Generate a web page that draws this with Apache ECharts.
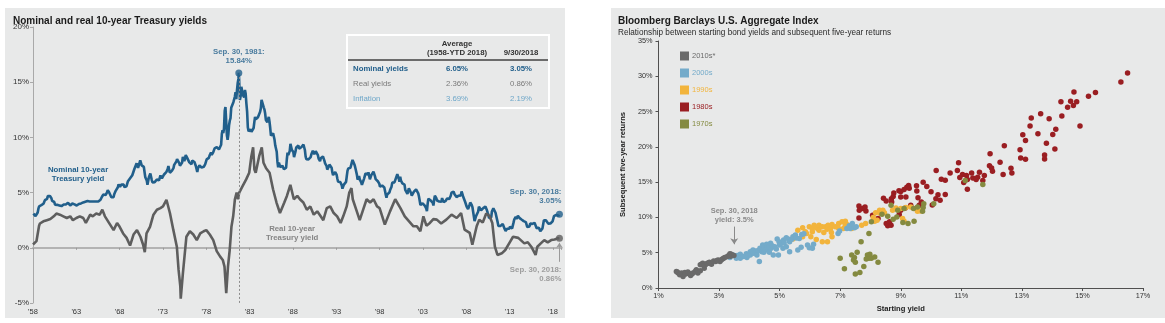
<!DOCTYPE html>
<html>
<head>
<meta charset="utf-8">
<script src="https://cdn.jsdelivr.net/npm/echarts@6.0.0/dist/echarts.min.js"></script>
<style>
  html, body { margin: 0; padding: 0; background: #ffffff; width: 1165px; height: 323px; overflow: hidden; }
  #yields  { position: absolute; left: 5px;   top: 8px; width: 560px; height: 310px; }
  #returns { position: absolute; left: 611px; top: 8px; width: 554px; height: 310px; }
</style>
</head>
<body>
<div id="yields"></div>
<div id="returns"></div>
<script>
// ---------- Nominal 10-year Treasury yield, monthly, Jan 1958 - Sep 2018 (%) ----------
const nominalStartYear = 1958;
const nominalYield = [
  3.09,3.05,2.98,2.88,2.92,2.97,3.20,3.54,3.76,3.80,3.74,3.86, // 1958
  4.02,3.96,3.99,4.12,4.31,4.34,4.40,4.43,4.68,4.53,4.53,4.69, // 1959
  4.72,4.49,4.25,4.28,4.35,4.15,3.90,3.80,3.80,3.89,3.93,3.84, // 1960
  3.84,3.78,3.74,3.78,3.71,3.88,3.92,4.04,3.98,3.92,3.94,4.06, // 1961
  4.08,4.04,3.93,3.84,3.87,3.91,4.01,3.98,3.98,3.93,3.92,3.86, // 1962
  3.83,3.92,3.93,3.97,3.93,3.99,4.02,4.00,4.08,4.11,4.12,4.13, // 1963
  4.17,4.15,4.22,4.23,4.20,4.17,4.19,4.19,4.20,4.19,4.15,4.18, // 1964
  4.19,4.21,4.21,4.20,4.21,4.21,4.20,4.25,4.29,4.35,4.45,4.62, // 1965
  4.61,4.83,4.87,4.75,4.78,4.81,5.02,5.22,5.18,5.01,5.16,4.84, // 1966
  4.58,4.63,4.54,4.59,4.85,5.02,5.16,5.28,5.30,5.48,5.75,5.70, // 1967
  5.53,5.56,5.74,5.64,5.87,5.72,5.50,5.42,5.46,5.58,5.70,6.03, // 1968
  6.04,6.19,6.30,6.17,6.32,6.57,6.72,6.69,7.16,7.10,7.14,7.65, // 1969
  7.79,7.24,7.07,7.39,7.91,7.84,7.46,7.53,7.39,7.33,6.84,6.39, // 1970
  6.24,6.11,5.70,5.83,6.39,6.52,6.73,6.58,6.14,5.93,5.81,5.93, // 1971
  5.95,6.08,6.07,6.19,6.13,6.11,6.11,6.21,6.55,6.48,6.28,6.36, // 1972
  6.46,6.64,6.71,6.67,6.85,6.90,7.13,7.40,7.09,6.79,6.73,6.74, // 1973
  6.99,6.96,7.21,7.51,7.58,7.54,7.81,8.04,8.04,7.90,7.68,7.43, // 1974
  7.50,7.39,7.73,8.23,8.06,7.86,8.06,8.40,8.43,8.14,8.05,8.00, // 1975
  7.74,7.79,7.73,7.56,7.90,7.86,7.83,7.77,7.59,7.41,7.29,6.87, // 1976
  7.21,7.39,7.46,7.37,7.46,7.28,7.33,7.40,7.34,7.52,7.58,7.69, // 1977
  8.01,8.03,8.04,8.15,8.35,8.46,8.64,8.41,8.42,8.64,8.81,9.01, // 1978
  9.10,9.10,9.12,9.18,9.25,8.91,8.95,9.03,9.33,10.30,10.65,10.39, // 1979
  10.80,12.41,12.75,11.47,10.18,9.78,10.25,11.10,11.51,11.75,12.68,12.84, // 1980
  12.57,13.19,13.12,13.68,14.10,13.47,14.28,14.94,15.32,15.15,13.39,13.72, // 1981
  14.59,14.43,13.86,13.87,13.62,14.30,13.95,13.06,12.34,10.91,10.55,10.54, // 1982
  10.46,10.72,10.51,10.40,10.38,10.85,11.38,11.85,11.65,11.54,11.69,11.83, // 1983
  11.67,11.84,12.32,12.63,13.41,13.56,13.36,12.72,12.52,12.16,11.57,11.50, // 1984
  11.38,11.51,11.86,11.43,10.85,10.16,10.31,10.33,10.37,10.24,9.78,9.26, // 1985
  9.19,8.70,7.78,7.30,7.71,7.80,7.30,7.17,7.45,7.43,7.25,7.11, // 1986
  7.08,7.25,7.25,8.02,8.61,8.40,8.45,8.76,9.42,9.52,8.86,8.99, // 1987
  8.67,8.21,8.37,8.72,9.09,8.92,9.06,9.26,8.98,8.80,8.96,9.11, // 1988
  9.09,9.17,9.36,9.18,8.86,8.28,8.02,8.11,8.19,8.01,7.87,7.84, // 1989
  8.21,8.47,8.59,8.79,8.76,8.48,8.47,8.75,8.89,8.72,8.39,8.08, // 1990
  8.09,7.85,8.11,8.04,8.07,8.28,8.27,7.90,7.65,7.53,7.42,7.09, // 1991
  7.03,7.34,7.54,7.48,7.39,7.26,6.84,6.59,6.42,6.59,6.87,6.77, // 1992
  6.60,6.26,5.98,5.97,6.04,5.96,5.81,5.68,5.36,5.33,5.72,5.77, // 1993
  5.75,5.97,6.48,6.97,7.18,7.10,7.30,7.24,7.46,7.74,7.96,7.81, // 1994
  7.78,7.47,7.20,7.06,6.63,6.17,6.28,6.49,6.20,6.04,5.93,5.71, // 1995
  5.65,5.81,6.27,6.51,6.74,6.91,6.87,6.64,6.83,6.53,6.20,6.30, // 1996
  6.58,6.42,6.69,6.89,6.71,6.49,6.22,6.30,6.21,6.03,5.88,5.81, // 1997
  5.54,5.57,5.65,5.64,5.65,5.50,5.46,5.34,4.81,4.53,4.83,4.65, // 1998
  4.72,5.00,5.23,5.18,5.54,5.90,5.79,5.94,5.92,6.11,6.03,6.28, // 1999
  6.66,6.52,6.26,5.99,6.44,6.10,6.05,5.83,5.80,5.74,5.72,5.24, // 2000
  5.16,5.10,4.89,5.14,5.39,5.28,5.24,4.97,4.73,4.57,4.65,5.09, // 2001
  5.04,4.91,5.28,5.21,5.16,4.93,4.65,4.26,3.87,3.94,4.05,4.03, // 2002
  4.05,3.90,3.81,3.96,3.57,3.33,3.98,4.45,4.27,4.29,4.30,4.27, // 2003
  4.15,4.08,3.83,4.35,4.72,4.73,4.50,4.28,4.13,4.10,4.19,4.23, // 2004
  4.22,4.17,4.50,4.34,4.14,4.00,4.18,4.26,4.20,4.46,4.54,4.47, // 2005
  4.42,4.57,4.72,4.99,5.11,5.11,5.09,4.88,4.72,4.73,4.60,4.56, // 2006
  4.76,4.72,4.56,4.69,4.75,5.10,5.00,4.67,4.52,4.53,4.15,4.10, // 2007
  3.74,3.74,3.51,3.68,3.88,4.10,4.01,3.89,3.69,3.81,3.53,2.42, // 2008
  2.52,2.87,2.82,2.93,3.29,3.72,3.56,3.59,3.40,3.39,3.40,3.59, // 2009
  3.73,3.69,3.73,3.85,3.42,3.20,3.01,2.70,2.65,2.54,2.76,3.29, // 2010
  3.39,3.58,3.41,3.46,3.17,3.00,3.00,2.30,1.98,2.15,2.01,1.98, // 2011
  1.97,1.97,2.17,2.05,1.80,1.62,1.53,1.68,1.72,1.75,1.65,1.72, // 2012
  1.91,1.98,1.96,1.76,1.93,2.30,2.58,2.74,2.81,2.62,2.72,2.90, // 2013
  2.86,2.71,2.72,2.71,2.56,2.60,2.54,2.42,2.53,2.30,2.33,2.21, // 2014
  1.88,1.98,2.04,1.94,2.20,2.36,2.32,2.17,2.17,2.07,2.26,2.24, // 2015
  2.09,1.78,1.89,1.81,1.81,1.64,1.50,1.56,1.63,1.76,2.14,2.49, // 2016
  2.43,2.42,2.48,2.30,2.30,2.19,2.32,2.21,2.20,2.36,2.35,2.40, // 2017
  2.58,2.86,2.84,2.87,2.98,2.91,2.89,2.89,3.00                 // 2018
];

// ---------- Real 10-year Treasury yield: [year, %] ----------
const realYield = [
  [1958.0,0.3],[1958.2,0.3],[1958.4,0.6],[1958.7,2.0],[1958.8,2.2],[1959.2,2.4],[1959.6,2.5],[1960.0,2.6],
  [1960.4,2.85],[1960.7,3.1],[1961.1,3.0],[1961.5,2.85],[1961.9,2.7],[1962.3,2.85],[1962.6,2.5],[1963.0,2.7],
  [1963.4,2.85],[1963.8,2.7],[1964.1,2.25],[1964.6,3.0],[1964.9,2.85],[1965.3,3.1],[1965.7,3.0],[1966.0,3.45],
  [1966.3,2.85],[1966.9,2.1],[1967.3,1.6],[1967.7,2.25],[1968.0,1.9],[1968.4,1.3],[1968.8,0.9],[1969.2,0.2],
  [1969.6,1.2],[1970.0,1.6],[1970.4,1.0],[1970.7,0.3],[1970.9,-0.4],[1971.1,1.3],[1971.5,1.9],[1971.9,3.0],
  [1972.3,3.45],[1972.7,3.6],[1973.0,3.75],[1973.4,4.35],[1973.8,3.15],[1974.2,1.6],[1974.6,0.1],[1974.8,-2.0],
  [1975.0,-3.5],[1975.05,-4.6],[1975.3,-2.3],[1975.7,1.0],[1976.1,1.5],[1976.5,1.2],[1976.9,0.7],[1977.3,1.3],
  [1977.7,1.5],[1978.0,1.6],[1978.4,1.2],[1978.8,0.7],[1979.2,-0.3],[1979.6,-0.8],[1979.9,-1.1],[1980.1,-1.7],
  [1980.3,-4.1],[1980.5,-1.7],[1980.7,-0.2],[1980.9,1.9],[1981.1,2.85],[1981.3,4.4],[1981.5,5.0],[1981.65,4.4],
  [1981.8,5.0],[1982.2,5.6],[1982.6,6.2],[1982.95,6.8],[1983.2,8.3],[1983.4,9.1],[1983.55,7.1],[1983.7,6.8],
  [1984.1,8.3],[1984.4,9.1],[1984.6,7.7],[1984.9,7.2],[1985.3,6.8],[1985.7,5.3],[1986.1,4.1],[1986.5,3.15],
  [1986.7,3.3],[1987.0,4.1],[1987.3,4.7],[1987.7,5.7],[1988.1,4.4],[1988.5,4.7],[1988.8,4.4],[1989.2,4.1],
  [1989.6,3.45],[1990.0,3.75],[1990.4,3.0],[1990.8,3.3],[1991.2,2.85],[1991.5,2.5],[1991.9,3.6],[1992.3,3.75],
  [1992.7,3.15],[1993.1,2.85],[1993.5,2.25],[1993.8,2.85],[1994.2,3.75],[1994.5,5.0],[1994.75,5.4],[1994.9,4.4],
  [1995.3,3.45],[1995.7,2.5],[1996.1,3.45],[1996.5,4.4],[1996.9,4.1],[1997.3,4.4],[1997.7,3.75],[1998.0,3.6],
  [1998.3,2.85],[1998.6,2.1],[1999.2,3.3],[1999.8,4.4],[2000.4,3.6],[2000.9,2.85],[2001.4,2.4],[2001.9,1.95],
  [2002.3,1.95],[2002.7,1.5],[2003.05,2.85],[2003.4,2.0],[2003.8,2.25],[2004.2,2.6],[2004.6,2.55],[2005.1,2.2],
  [2005.7,2.55],[2006.3,3.0],[2006.9,2.7],[2007.4,3.15],[2007.8,1.65],[2008.4,1.35],[2008.7,0.27],[2009.2,1.95],
  [2009.5,2.55],[2009.9,2.3],[2010.3,3.1],[2010.7,2.85],[2011.0,2.25],[2011.3,0.1],[2011.6,-0.65],[2012.1,-0.5],
  [2012.5,-0.2],[2013.1,0.6],[2013.4,1.0],[2014.0,0.9],[2014.7,0.4],[2015.1,0.5],[2015.5,0.1],[2016.0,-0.65],
  [2016.2,0.1],[2016.6,0.4],[2017.0,0.7],[2017.4,0.5],[2017.8,0.7],[2018.2,0.75],[2018.5,0.85]
];

// Called-out points
const peakPoint   = { date: 1981.75, value: 15.84, text: 'Sep. 30, 1981:\n15.84%' };
const latestPoint = { date: 2018.75, nominal: 3.05, real: 0.86,
                      nominalText: 'Sep. 30, 2018:\n3.05%', realText: 'Sep. 30, 2018:\n0.86%' };

const yearTickLabels = ["'58","'63","'68","'73","'78","'83","'88","'93","'98","'03","'08","'13","'18"];

// Summary table
const tableHeader = ['', 'Average\n(1958-YTD 2018)', '9/30/2018'];
const tableRows = [
  ['Nominal yields', '6.05%', '3.05%'],
  ['Real yields',    '2.36%', '0.86%'],
  ['Inflation',      '3.69%', '2.19%']
];

// ---------- Starting yield vs. subsequent five-year return: [yield %, return %] ----------
const decade2010s = [
  [1.59,2.34],[1.62,2.25],[1.65,2.11],[1.7,1.87],[1.76,2.11],[1.81,1.64],[1.87,2.2],[1.89,1.97],[1.93,2.05],
  [1.97,2.25],[2.03,2.01],[2.06,1.78],[2.1,2.0],[2.14,2.11],[2.21,2.34],[2.25,2.58],[2.3,2.11],[2.38,2.44],
  [2.38,3.28],[2.42,3.35],[2.46,3.51],[2.51,3.19],[2.51,2.81],[2.55,3.3],[2.6,3.47],[2.64,3.55],[2.68,3.66],
  [2.72,3.5],[2.75,3.37],[2.82,3.84],[2.89,3.75],[2.93,3.9],[2.97,3.98],[3.03,3.75],[3.07,3.95],[3.11,4.12],
  [3.15,4.2],[3.19,4.31],[3.27,4.45],[3.32,4.6],[3.36,4.87],[3.38,4.5],[3.4,4.8],[3.43,4.69],[3.49,4.59]
];
const decade2000s = [
  [3.36,4.31],[3.46,4.69],[3.57,4.22],[3.6,4.59],[3.7,4.78],[3.7,4.22],[3.81,4.45],[3.9,4.87],[3.92,4.31],
  [3.95,4.6],[4.03,5.15],[4.03,4.69],[4.1,5.1],[4.12,5.39],[4.14,4.92],[4.2,5.0],[4.22,5.25],[4.25,4.69],
  [4.3,5.3],[4.33,3.75],[4.35,5.62],[4.41,5.15],[4.44,6.09],[4.45,5.3],[4.48,5.06],[4.5,5.8],[4.52,5.39],
  [4.55,5.5],[4.57,6.19],[4.6,5.9],[4.62,5.62],[4.65,5.8],[4.66,5.06],[4.7,6.33],[4.72,5.62],[4.75,6.0],
  [4.79,4.69],[4.84,5.86],[4.89,5.53],[4.92,6.94],[4.96,4.69],[4.98,6.56],[5.0,6.1],[5.06,6.33],[5.11,5.62],
  [5.13,6.79],[5.15,6.4],[5.22,7.12],[5.22,5.86],[5.3,6.9],[5.33,6.56],[5.33,5.15],[5.4,6.9],[5.44,7.26],
  [5.52,7.5],[5.55,7.1],[5.6,5.39],[5.65,7.03],[5.71,5.76],[5.73,7.59],[5.8,7.7],[5.92,6.09],[5.98,5.72],
  [6.08,5.62],[6.12,6.19],[6.93,7.73],[6.98,8.06],[7.22,8.43],[7.3,8.81],[7.33,8.43],[7.4,9.14],[7.47,8.53],
  [7.53,8.67]
];
const decade1990s = [
  [5.44,6.94],[5.6,8.2],[5.76,8.53],[5.76,7.26],[5.85,7.97],[5.89,7.73],[5.98,8.67],[6.03,7.26],[6.08,8.43],
  [6.08,7.97],[6.14,8.9],[6.21,6.89],[6.25,8.43],[6.3,8.9],[6.3,8.2],[6.41,8.67],[6.41,6.56],[6.46,7.87],
  [6.52,8.67],[6.57,8.34],[6.58,6.56],[6.6,8.9],[6.68,8.43],[6.71,7.87],[6.73,9.0],[6.73,7.26],[6.84,8.67],
  [6.95,9.14],[6.95,8.43],[7.06,9.37],[7.11,8.43],[7.17,9.47],[7.17,8.9],[7.22,9.0],[7.38,8.43],[7.71,8.9],
  [7.84,9.14],[8.09,9.98],[8.14,9.47],[8.17,10.68],[8.22,9.6],[8.3,11.0],[8.33,10.54],[8.41,11.0],[8.46,10.68],
  [8.73,11.0],[8.84,11.34],[9.0,11.25],[9.06,9.84],[9.11,9.47],[9.17,11.39],[9.33,11.48],[9.55,10.87],[9.65,10.92]
];
const decade1980s = [
  [16.49,30.46],[16.27,29.19],[14.72,27.79],[15.43,27.69],[15.2,27.18],[14.29,26.38],[14.61,26.48],[14.81,26.38],
  [14.51,25.63],[14.7,25.87],[13.62,24.7],[13.31,24.09],[13.9,23.99],[14.32,24.37],[13.27,22.96],[14.12,22.49],
  [14.92,22.96],[13.03,21.7],[13.53,21.84],[14.02,21.74],[13.12,20.9],[13.81,20.52],[12.42,20.15],[12.94,19.59],
  [14.09,19.68],[11.95,19.03],[12.96,18.42],[13.12,18.23],[13.75,18.84],[13.75,18.28],[10.91,17.76],[12.28,17.81],
  [11.93,17.34],[12.0,17.01],[12.64,16.96],[12.03,16.54],[12.38,16.07],[12.67,16.31],[10.17,16.64],[10.63,16.31],
  [10.87,16.64],[11.04,16.07],[10.34,15.42],[10.47,15.28],[10.95,15.65],[11.17,15.93],[11.34,16.31],[11.2,15.37],
  [11.08,14.95],[11.38,15.6],[11.6,16.4],[11.54,15.7],[11.49,15.37],[11.71,15.23],[11.2,14.01],[11.76,15.93],
  [9.74,15.0],[9.86,14.39],[9.52,14.48],[10.0,13.64],[9.26,14.53],[9.2,14.29],[9.11,13.96],[9.0,13.68],
  [9.28,14.15],[9.53,13.73],[10.23,13.21],[10.47,13.26],[10.16,12.65],[10.3,12.42],[10.04,11.76],[8.77,13.45],
  [8.94,13.78],[8.75,12.98],[8.69,12.65],[8.43,12.7],[8.52,12.32],[8.7,12.18],[9.0,12.89],[9.17,12.89],
  [9.57,12.79],[9.33,11.72],[9.15,11.34],[9.0,11.01],[8.95,10.4],[9.68,12.18],[9.61,11.72],[7.62,11.62],
  [7.63,11.01],[7.74,11.25],[7.85,10.92],[7.82,11.48],[7.62,9.93],[8.07,10.31],[8.52,9.14],[8.57,8.81],
  [8.68,8.9],[8.63,9.37],[8.25,9.84]
];
const decade1970s = [
  [7.0,4.22],[7.14,2.72],[7.38,4.69],[7.47,4.31],[7.44,3.98],[7.56,5.06],[7.69,6.56],[7.5,3.65],[7.5,1.97],
  [7.65,2.2],[7.78,3.05],[7.9,4.69],[7.95,4.22],[7.86,4.12],[8.03,4.22],[8.14,4.4],[8.25,3.65],[7.95,7.73],
  [7.98,4.78],[8.03,9.37],[8.38,10.45],[8.68,11.72],[8.75,9.75],[8.87,10.07],[9.07,9.28],[9.24,9.14],
  [9.44,9.47],[9.42,11.25],[9.55,11.48],[9.74,11.39],[9.76,11.95],[9.72,10.87],[10.09,11.95],[9.11,11.25],
  [11.13,15.23],[11.71,14.67],[8.9,11.0],[8.57,10.17]
];
const latestStartingYield = { yield: 3.5, text: 'Sep. 30, 2018\nyield: 3.5%' };

// ---------- Shared styling ----------
const FONT = '"Liberation Sans", Arial, Helvetica, sans-serif';
const PANEL_BG = '#e8e9e9';
const BLUE = '#215f8b';
const GRAY = '#5e5e5e';
const LIGHT_BLUE = '#6ea7c9';
const decadeColors = {
  '2010s*': '#6a6a6a',
  '2000s':  '#74abca',
  '1990s':  '#f2b43c',
  '1980s':  '#9a1e22',
  '1970s':  '#848a40'
};

// ---------- Left panel: nominal and real yields ----------
const nominalSeries = [];
nominalYield.forEach((v, i) => {
  const t = nominalStartYear + (i + 0.5) / 12;
  if (nominalSeries.length && nominalSeries[nominalSeries.length - 1][0] < peakPoint.date && t > peakPoint.date) {
    nominalSeries.push([peakPoint.date, peakPoint.value]);
  }
  nominalSeries.push([t, v]);
});
nominalSeries.push([latestPoint.date, latestPoint.nominal]);
const realSeries = realYield.concat([[latestPoint.date, latestPoint.real]]);

const tableLeft = 342, tableTop = 27, tableW = 202, tableH = 73;
const colX = [tableLeft + 6, tableLeft + 110, tableLeft + 174];
const rowY = [tableTop + 34, tableTop + 49, tableTop + 64];
const rowStyles = [
  { fill: BLUE, fontWeight: 'bold' },
  { fill: '#7a7a7a', fontWeight: 'normal' },
  { fill: LIGHT_BLUE, fontWeight: 'normal' }
];
const tableGraphic = [
  { type: 'rect', shape: { x: tableLeft, y: tableTop, width: tableW, height: tableH },
    style: { fill: 'rgba(0,0,0,0)', stroke: '#ffffff', lineWidth: 2 } },
  { type: 'line', shape: { x1: tableLeft + 1, y1: tableTop + 25, x2: tableLeft + tableW - 1, y2: tableTop + 25 },
    style: { stroke: '#6b6b6b', lineWidth: 2 } },
  { type: 'text', x: colX[1], y: tableTop + 13,
    style: { text: tableHeader[1], fill: '#333333', fontSize: 7.8, fontWeight: 'bold', fontFamily: FONT,
             align: 'center', verticalAlign: 'middle', lineHeight: 9 } },
  { type: 'text', x: colX[2], y: tableTop + 18,
    style: { text: tableHeader[2], fill: '#333333', fontSize: 7.8, fontWeight: 'bold', fontFamily: FONT,
             align: 'center', verticalAlign: 'middle' } }
];
tableRows.forEach((row, r) => {
  row.forEach((cell, c) => {
    tableGraphic.push({
      type: 'text', x: colX[c], y: rowY[r],
      style: { text: cell, fill: rowStyles[r].fill, fontSize: 7.8, fontWeight: rowStyles[r].fontWeight,
               fontFamily: FONT, align: c === 0 ? 'left' : 'center', verticalAlign: 'middle' }
    });
  });
});

const yieldsChart = echarts.init(document.getElementById('yields'));
yieldsChart.setOption({
  backgroundColor: PANEL_BG,
  animation: false,
  textStyle: { fontFamily: FONT },
  title: {
    text: 'Nominal and real 10-year Treasury yields', left: 3, top: 3,
    textStyle: { fontSize: 10, fontWeight: 'bold', color: '#1a1a1a', fontFamily: FONT }
  },
  grid: { left: 28, top: 19, width: 528.6, height: 276 },
  xAxis: [
    {
      type: 'value', min: 1958, max: 2019, interval: 5,
      axisLine: { show: false, onZero: false }, axisTick: { show: false }, splitLine: { show: false },
      axisLabel: {
        fontSize: 7.5, color: '#333333', margin: 5,
        formatter: v => ((v - 1958) % 5 === 0 ? (yearTickLabels[(v - 1958) / 5] || '') : '')
      }
    },
    {
      type: 'value', min: 1958, max: 2019, interval: 5, position: 'bottom',
      axisLine: { show: true, onZero: true, lineStyle: { color: '#b3b3b3', width: 2 } },
      axisTick: { show: true, length: 2, lineStyle: { color: '#9a9a9a' } },
      axisLabel: { show: false }, splitLine: { show: false }
    }
  ],
  yAxis: {
    type: 'value', min: -5, max: 20, interval: 5,
    axisLine: { show: true, lineStyle: { color: '#a9a9a9' } },
    axisTick: { show: true, length: 3, lineStyle: { color: '#a9a9a9' } },
    splitLine: { show: false },
    axisLabel: { fontSize: 8, color: '#333333', margin: 4, formatter: '{value}%' }
  },
  graphic: tableGraphic,
  series: [
    {
      name: 'Nominal 10-year Treasury yield', type: 'line', data: nominalSeries,
      symbol: 'none', lineStyle: { color: BLUE, width: 2.6 }, z: 3,
      markLine: {
        silent: true, symbol: 'none', animation: false,
        lineStyle: { color: '#8c8c8c', type: [2, 2], width: 1 }, label: { show: false },
        data: [[{ coord: [peakPoint.date, peakPoint.value] }, { coord: [peakPoint.date, -5] }]]
      },
      markPoint: {
        silent: true, symbol: 'circle', symbolSize: 0,
        data: [{ coord: [1963.2, 6.68], value: 0 }],
        label: {
          show: true, position: 'inside', formatter: 'Nominal 10-year\nTreasury yield',
          color: BLUE, fontSize: 7.8, fontWeight: 'bold', lineHeight: 9, fontFamily: FONT
        }
      }
    },
    {
      name: 'Real 10-year Treasury yield', type: 'line', data: realSeries,
      symbol: 'none', lineStyle: { color: GRAY, width: 2.6 }, z: 4,
      markLine: {
        silent: true, symbol: ['none', 'arrow'], symbolSize: 5, animation: false,
        lineStyle: { color: '#9a9a9a', type: 'solid', width: 1 }, label: { show: false },
        data: [[{ coord: [latestPoint.date, -1.27] }, { coord: [latestPoint.date, 0.45] }]]
      },
      markPoint: {
        silent: true, symbol: 'circle', symbolSize: 0,
        data: [{ coord: [1987.9, 1.27], value: 0 }],
        label: {
          show: true, position: 'inside', formatter: 'Real 10-year\nTreasury yield',
          color: '#858585', fontSize: 7.8, fontWeight: 'bold', lineHeight: 9, fontFamily: FONT
        }
      }
    },
    {
      name: 'callouts', type: 'scatter', symbolSize: 7, z: 5,
      data: [
        { value: [peakPoint.date, peakPoint.value], itemStyle: { color: BLUE },
          label: { show: true, position: 'top', distance: 4, formatter: peakPoint.text, color: BLUE,
                   fontSize: 7.8, fontWeight: 'bold', lineHeight: 9, align: 'center' } },
        { value: [latestPoint.date, latestPoint.nominal], itemStyle: { color: BLUE },
          label: { show: true, position: 'top', distance: 5, offset: [2, 0], formatter: latestPoint.nominalText,
                   color: BLUE, fontSize: 7.8, fontWeight: 'bold', lineHeight: 9, align: 'right' } },
        { value: [latestPoint.date, latestPoint.real], itemStyle: { color: GRAY },
          label: { show: true, position: 'bottom', distance: 24, offset: [2, 0], formatter: latestPoint.realText,
                   color: '#8a8a8a', fontSize: 7.8, fontWeight: 'bold', lineHeight: 9, align: 'right' } }
      ]
    }
  ]
});

// ---------- Right panel: starting yield vs. subsequent returns ----------
const decadeSeries = [
  { name: '1980s',  data: decade1980s },
  { name: '1990s',  data: decade1990s },
  { name: '1970s',  data: decade1970s },
  { name: '2000s',  data: decade2000s },
  { name: '2010s*', data: decade2010s }
];
const legendOrder = ['2010s*', '2000s', '1990s', '1980s', '1970s'];

const returnsChart = echarts.init(document.getElementById('returns'));
returnsChart.setOption({
  backgroundColor: PANEL_BG,
  animation: false,
  textStyle: { fontFamily: FONT },
  title: {
    text: 'Bloomberg Barclays U.S. Aggregate Index',
    subtext: 'Relationship between starting bond yields and subsequent five-year returns',
    left: 2, top: 3, itemGap: 3,
    textStyle: { fontSize: 10, fontWeight: 'bold', color: '#1a1a1a', fontFamily: FONT },
    subtextStyle: { fontSize: 8.2, color: '#2a2a2a', fontFamily: FONT }
  },
  legend: {
    orient: 'vertical', left: 64, top: 38.5, itemWidth: 9, itemHeight: 9, itemGap: 8,
    icon: 'rect', selectedMode: false,
    textStyle: { fontSize: 7.5, fontFamily: FONT, padding: [0, 0, 0, -2] },
    data: legendOrder.map(n => ({ name: n, textStyle: { color: decadeColors[n] } }))
  },
  grid: { left: 39, top: 33, width: 493, height: 249 },
  xAxis: {
    type: 'value', min: 1, max: 17, interval: 2,
    name: 'Starting yield', nameLocation: 'middle', nameGap: 17,
    nameTextStyle: { fontSize: 7.6, fontWeight: 'bold', color: '#222222' },
    axisLine: { show: true, onZero: false, lineStyle: { color: '#505050', width: 1 } },
    axisTick: { show: true, length: 3, lineStyle: { color: '#505050' } },
    splitLine: { show: false },
    axisLabel: { fontSize: 7.3, color: '#333333', margin: 4, formatter: '{value}%' }
  },
  yAxis: {
    type: 'value', min: 0, max: 35, interval: 5,
    name: 'Subsequent five-year returns', nameLocation: 'middle', nameGap: 27, nameRotate: 90,
    nameTextStyle: { fontSize: 7.6, fontWeight: 'bold', color: '#222222' },
    axisLine: { show: true, lineStyle: { color: '#505050', width: 1 } },
    axisTick: { show: true, length: 3, lineStyle: { color: '#505050' } },
    splitLine: { show: false },
    axisLabel: { fontSize: 7.3, color: '#333333', margin: 6, formatter: '{value}%' }
  },
  series: decadeSeries.map(s => {
    const series = {
      name: s.name, type: 'scatter', data: s.data, symbolSize: 5.5,
      itemStyle: { color: decadeColors[s.name], opacity: 1 }
    };
    if (s.name === '2010s*') {
      series.markLine = {
        silent: true, symbol: ['none', 'arrow'], symbolSize: 6, animation: false,
        lineStyle: { color: '#8a8a8a', type: 'solid', width: 1 },
        label: { show: true, position: 'start', distance: 2, formatter: latestStartingYield.text,
                 color: '#8a8a8a', fontSize: 7.5, fontWeight: 'bold', lineHeight: 9, fontFamily: FONT },
        data: [[{ coord: [latestStartingYield.yield, 8.7] }, { coord: [latestStartingYield.yield, 6.2] }]]
      };
    }
    return series;
  })
});
</script>
</body>
</html>
